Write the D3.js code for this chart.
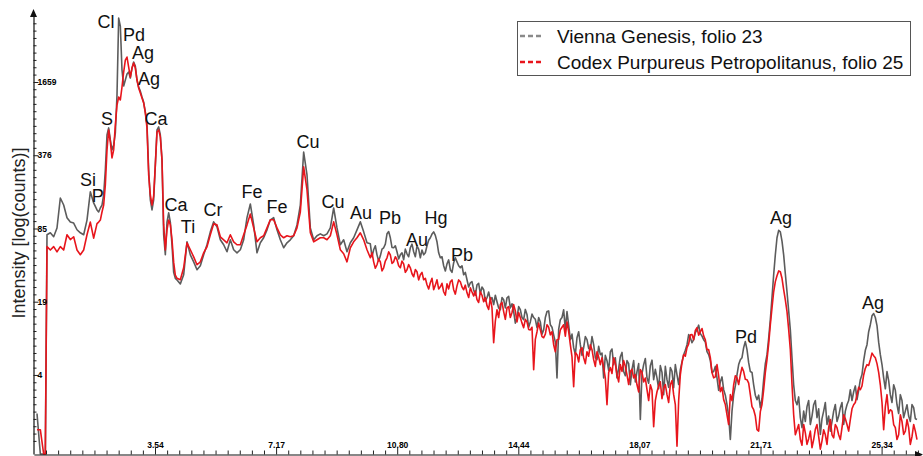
<!DOCTYPE html>
<html><head><meta charset="utf-8">
<script src="https://cdn.jsdelivr.net/npm/d3@7/dist/d3.min.js"></script>
<style>html,body{margin:0;padding:0;background:#fff;}svg{display:block;}</style>
</head><body><svg id="chart" width="923" height="456"></svg>
<script>
// ---------------- data ----------------
const seriesNames = ["Vienna Genesis, folio 23", "Codex Purpureus Petropolitanus, folio 25"];

// energy channels (keV)
const energy = [
  0, 0.1, 0.2, 0.25, 0.3, 0.4, 0.5, 0.6, 0.7, 0.8, 0.9, 1.0, 1.1, 1.2, 1.3, 1.4, 1.5, 1.6, 1.7, 1.8,
  1.85, 1.9, 1.95, 2.0, 2.05, 2.1, 2.15, 2.2, 2.25, 2.3, 2.35, 2.4, 2.45, 2.5, 2.55, 2.6, 2.65, 2.7, 2.75, 2.8,
  2.85, 2.9, 2.95, 3.0, 3.05, 3.1, 3.15, 3.2, 3.25, 3.3, 3.35, 3.4, 3.45, 3.5, 3.55, 3.6, 3.65, 3.7, 3.75, 3.8,
  3.85, 3.9, 3.95, 4.0, 4.05, 4.1, 4.15, 4.2,
  4.3, 4.4, 4.5, 4.6, 4.7, 4.8, 4.9, 5.0, 5.1, 5.2,
  5.3, 5.4, 5.5, 5.6, 5.7, 5.8, 5.9, 6.0, 6.1, 6.2,
  6.3, 6.4, 6.5, 6.6, 6.7, 6.8, 6.9, 7.0, 7.1, 7.2,
  7.3, 7.4, 7.5, 7.6, 7.7, 7.8, 7.9, 8.0, 8.1, 8.2,
  8.3, 8.4, 8.5, 8.6, 8.7, 8.8, 8.9, 9.0, 9.1, 9.2,
  9.3, 9.4, 9.5, 9.6, 9.7, 9.8, 9.9,
  10.0, 10.05, 10.1, 10.15, 10.2, 10.25, 10.3, 10.35, 10.4, 10.45, 10.5, 10.55, 10.6, 10.65, 10.7, 10.75, 10.8, 10.85, 10.9, 10.95,
  11.0, 11.05, 11.1, 11.15, 11.2, 11.25, 11.3, 11.35, 11.4, 11.45, 11.5, 11.55, 11.6, 11.65, 11.7, 11.75, 11.8, 11.85, 11.9, 11.95,
  12.0, 12.05, 12.1, 12.15, 12.2, 12.25, 12.3, 12.35, 12.4, 12.45, 12.5, 12.55, 12.6, 12.65, 12.7, 12.75, 12.8, 12.85, 12.9, 12.95,
  13.0, 13.05, 13.1, 13.15, 13.2, 13.25, 13.3, 13.35, 13.4, 13.45, 13.5, 13.55, 13.6, 13.65, 13.7, 13.75, 13.8, 13.85, 13.9, 13.95,
  14.0, 14.05, 14.1, 14.15, 14.2, 14.25, 14.3, 14.35, 14.4, 14.45, 14.5, 14.55, 14.6, 14.65, 14.7, 14.75, 14.8, 14.85, 14.9, 14.95,
  15.0, 15.05, 15.1, 15.15, 15.2, 15.25, 15.3, 15.35, 15.4, 15.45, 15.5, 15.55, 15.6, 15.65, 15.7, 15.75, 15.8, 15.85, 15.9, 15.95,
  16.0, 16.05, 16.1, 16.15, 16.2, 16.25, 16.3, 16.35, 16.4, 16.45, 16.5, 16.55, 16.6, 16.65, 16.7, 16.75, 16.8, 16.85, 16.9, 16.95,
  17.0, 17.05, 17.1, 17.15, 17.2, 17.25, 17.3, 17.35, 17.4, 17.45, 17.5, 17.55, 17.6, 17.65, 17.7, 17.75, 17.8, 17.85, 17.9, 17.95,
  18.0, 18.05, 18.1, 18.15, 18.2, 18.25, 18.3, 18.35, 18.4, 18.45, 18.5, 18.55, 18.6, 18.65, 18.7, 18.75, 18.8, 18.85, 18.9, 18.95,
  19.0, 19.05, 19.1, 19.15, 19.2, 19.25, 19.3, 19.35, 19.4, 19.45, 19.5, 19.55, 19.6, 19.65, 19.7, 19.75, 19.8, 19.85, 19.9, 19.95,
  20.0, 20.05, 20.1, 20.15, 20.2, 20.25, 20.3, 20.35, 20.4, 20.45, 20.5, 20.55, 20.6, 20.65, 20.7, 20.75, 20.8, 20.85, 20.9, 20.95,
  21.0, 21.05, 21.1, 21.15, 21.2, 21.25, 21.3, 21.35, 21.4, 21.45, 21.5, 21.55, 21.6, 21.65, 21.7, 21.75, 21.8, 21.85, 21.9, 21.95,
  22.0, 22.05, 22.1, 22.15, 22.2, 22.25, 22.3, 22.35, 22.4, 22.45, 22.5, 22.55, 22.6, 22.65, 22.7, 22.75, 22.8, 22.85, 22.9, 22.95,
  23.0, 23.05, 23.1, 23.15, 23.2, 23.25, 23.3, 23.35, 23.4, 23.45, 23.5, 23.55, 23.6, 23.65, 23.7, 23.75, 23.8, 23.85, 23.9, 23.95,
  24.0, 24.05, 24.1, 24.15, 24.2, 24.25, 24.3, 24.35, 24.4, 24.45, 24.5, 24.55, 24.6, 24.65, 24.7, 24.75, 24.8, 24.85, 24.9, 24.95,
  25.0, 25.05, 25.1, 25.15, 25.2, 25.25, 25.3, 25.35, 25.4, 25.45, 25.5, 25.55, 25.6, 25.65, 25.7, 25.75, 25.8, 25.85, 25.9, 25.95,
  26.0, 26.05, 26.1, 26.15, 26.2, 26.25, 26.3, 26.35, 26.4
];

const viennaGenesis = [
  2.0, 0.5, 0.5, 0.5, 75, 78, 72, 86, 158, 137, 106, 97, 95, 83, 78, 75, 101, 179, 143, 124,
  119, 129, 137, 168, 279, 567, 654, 513, 419, 463, 590, 1275, 6063, 5160, 2115, 1530, 1727, 1951, 2031, 1799,
  2200, 2487, 2290, 1727, 1500, 1380, 1224, 1100, 900, 694, 279, 152, 124, 152, 309, 628, 667, 567, 342, 75,
  50, 97, 117, 97, 61, 35, 31, 30,
  27.7, 33.3, 65, 49.9, 43.3, 36.9, 40, 49.9, 61.2, 79.5,
  97.4, 88, 67.7, 61.2, 53.1, 67.7, 55.3, 52, 55.3, 67.7,
  106, 140, 91.6, 52, 63.7, 70.5, 82.8, 101.5, 106, 82.8,
  67.7, 57.6, 63.7, 67.7, 73.4, 91.6, 137, 401, 252, 86.2,
  67.7, 73.4, 76.4, 73.4, 76.4, 86.2, 129, 86.2, 61.2, 67.7,
  53.1, 63.7, 70.5, 82.8, 97.4, 79.5, 63.7,
  62.4, 48, 55.3, 60, 49.9, 44, 48.9, 56, 57.6, 62, 76.4, 80, 70.5, 58, 57.6, 60, 53.1, 46, 49.9, 52,
  45.2, 56, 51, 48, 57.6, 62, 53.1, 48, 60, 56, 47, 55, 49.9, 52, 60, 67, 70.5, 76, 79.5, 74,
  65, 52, 47, 48, 40, 36, 41.6, 45, 36.9, 35, 42.5, 47, 43.3, 40, 38.4, 40, 33.3, 35, 30.1, 26,
  28.3, 29, 24.6, 22, 27.2, 28, 22.6, 26, 24.6, 19.5, 20.9, 23.5, 20.1, 21, 18.2, 22, 19.3, 17, 16.4, 21,
  20.1, 17, 20.9, 21.5, 17, 18.5, 15.8, 12.5, 14, 17.5, 16.4, 14, 13.4, 16.5, 14.9, 11.5, 12.8, 15, 14, 13.5,
  11.4, 14, 12.8, 10, 10.9, 14, 15.8, 16, 12.1, 11.5, 9.86, 8.5, 4.12, 11, 13.4, 14, 16.4, 11, 15.8, 12,
  8.93, 10, 7.6, 6.6, 9.3, 10.5, 8.07, 6.5, 7.6, 9.5, 8.93, 7.5, 7.29, 9.5, 8.07, 6.2, 5.96, 7.8, 6.59, 6.8,
  4.12, 6.5, 5.84, 4.8, 7, 7.4, 5.39, 6.2, 4.12, 5, 6.33, 6.9, 4.68, 4.3, 5.84, 5.5, 3.58, 4.9, 5.84, 3.8,
  4.68, 5.5, 1.77, 4.5, 5.39, 6.1, 4.12, 3.7, 5.28, 5.9, 3.97, 4.9, 4.12, 3.3, 5.28, 4.6, 2.93, 5.2, 3.97, 3.4,
  5.08, 4.7, 3.37, 5.4, 4.37, 3.6, 4.87, 5.7, 6.59, 7.2, 8.07, 9.9, 9.3, 8.4, 8.93, 10.3, 10.9, 12, 10.1, 9.6,
  8.93, 8.5, 7, 6.6, 5.84, 4.6, 4.68, 5.2, 4.12, 3.2, 3.8, 4.2, 3.24, 2.9, 2.39, 1.9, 1.18, 2.1, 2.93, 3.5,
  4.37, 5.4, 5.96, 6.2, 7.6, 8.6, 7.29, 5.6, 4.68, 4.6, 3.58, 2.9, 2.65, 2.9, 2.25, 2.7, 3.97, 5.5, 6.59, 9.2,
  13.4, 21, 33.3, 50, 70.5, 82, 79.5, 66, 49.9, 34, 23.6, 16, 10.9, 6.2, 3.58, 2.6, 2.39, 2.8, 1.84, 1.5,
  2.1, 1.7, 2.3, 2.6, 1.6, 1.9, 2.39, 2.6, 1.84, 2.2, 1.31, 1.8, 2.1, 2.5, 1.6, 1.9, 1.4, 1.7, 2.1, 2.4,
  1.7, 1.9, 2.25, 2.5, 1.6, 2.1, 2.39, 2.6, 3.24, 2.6, 3.11, 3.5, 2.65, 3.2, 3.97, 4.4, 5.84, 7.2, 8.07, 10.5,
  12.1, 14.5, 15.2, 14, 11.9, 8.5, 6.59, 5.4, 4.12, 3.3, 4.68, 3.9, 2.93, 2.5, 3.58, 3.2, 2.39, 2.0, 2.93, 2.6,
  1.84, 2.1, 2.39, 1.9, 1.7, 2.4, 2.25, 1.8, 1.77
];

const codexPetropolitanus = [
  1.44, 1.44, 0.5, 0.5, 59, 55, 59, 53, 59, 55, 75, 68, 72, 55, 50, 55, 75, 97, 70, 94,
  97, 101, 119, 137, 206, 419, 628, 492, 356, 419, 694, 1041, 1224, 1152, 1500, 2031, 2590, 2752, 2248, 1835,
  2203, 2439, 2200, 1727, 1469, 1328, 1199, 1085, 886, 654, 252, 168, 137, 165, 309, 602, 628, 545, 342, 92,
  55, 83, 101, 92, 68, 43, 33, 31,
  30.1, 38.4, 63.7, 55.3, 47.9, 40.8, 43.3, 52, 58.8, 74.9,
  93.5, 91.6, 71.9, 67.7, 63.7, 74.9, 65, 61.2, 61.2, 74.9,
  91.6, 114, 86.2, 65, 70.5, 73.4, 86.2, 101.5, 101.5, 86.2,
  74.9, 70.5, 73.4, 71.9, 73.4, 86.2, 119, 297, 186, 78,
  65, 67.7, 70.5, 70.5, 67.7, 73.4, 97.4, 74.9, 55.3, 51,
  43.3, 57.6, 65, 70.5, 78, 67.7, 55.3,
  47, 52, 43.3, 38, 40.8, 46, 43.3, 36, 38.4, 44, 47, 53, 49.9, 42, 43.3, 48, 45.2, 40, 38.4, 44,
  41.6, 35, 36.9, 41, 38.4, 34, 32, 37, 35.4, 30, 33.3, 35, 30.1, 31, 27.2, 25, 28.3, 31, 24.6, 27,
  30.1, 25, 26.1, 28, 23.6, 22, 27.7, 25, 28.9, 30, 24.6, 22.5, 26.6, 30, 28.9, 26, 24.6, 27, 23.1, 21,
  25.6, 23.5, 21.7, 24, 20.1, 19, 23.6, 22, 19.3, 21, 17.8, 16.5, 20.9, 17, 8.41, 13, 16.4, 14, 18.2, 19,
  15.8, 13.5, 17, 17.5, 14, 15.5, 18.2, 16, 12.8, 15.5, 14, 12.5, 11.4, 13.5, 12.8, 11, 10.9, 11.5, 4.87, 9,
  10.5, 12.5, 10.9, 9.5, 9.3, 10, 12.1, 11.5, 9.86, 10.5, 8.07, 7, 8.93, 9, 10.9, 11.5, 12.1, 9.6, 12.8, 10.5,
  8.07, 6.3, 3.44, 6.9, 6.59, 5.7, 7.29, 7.6, 6.2, 5.5, 7, 6.4, 8.07, 7.3, 5.96, 5.2, 7, 6.3, 5.39, 6.2,
  5.08, 4.1, 2.39, 4.6, 5.08, 4.5, 6.2, 5.5, 4.37, 3.8, 5.39, 4.7, 5.84, 5.2, 4.37, 3.6, 4.68, 4.9, 4.12, 4.4,
  3.58, 3.1, 4.87, 4.6, 3.8, 4.1, 3.24, 2.6, 3.58, 3.2, 1.53, 2.6, 3.11, 3.5, 3.8, 2.7, 3.37, 3.6, 2.93, 2.5,
  3.58, 3.9, 2.93, 2.4, 1.03, 2.6, 4.37, 5.6, 6.59, 6.4, 7.6, 8.2, 9.86, 9.9, 8.93, 10.8, 11.4, 9.8, 10.5, 11.2,
  9.66, 8.9, 7.29, 7.3, 6.2, 4.6, 4.12, 4.2, 5.39, 4.3, 3.11, 3.4, 2.65, 2.4, 1.95, 1.6, 2.93, 2.6, 3.58, 4.3,
  4.12, 3.6, 4.37, 5.1, 4.68, 4.0, 3.97, 3.7, 2.93, 2.3, 2.16, 1.9, 1.44, 1.4, 2.08, 2.4, 3.24, 4.6, 5.96, 8.2,
  12.1, 17, 23.6, 29, 32.6, 36, 35.4, 31, 24.6, 20, 15.8, 11, 7.29, 3.6, 1.95, 1.3, 1.44, 1.6, 1.18, 1.05,
  1.6, 1.35, 1.07, 1.2, 1.4, 1.0, 1.18, 1.45, 1.6, 1.25, 0.97, 1.15, 1.44, 1.3, 1.07, 1.5, 1.77, 1.3, 1.22, 1.6,
  1.5, 1.3, 1.18, 1.5, 1.95, 1.8, 1.6, 1.4, 1.77, 2.2, 2.39, 2.5, 2.93, 3.4, 3.24, 3.5, 4.37, 5.0, 5.39, 5.3,
  5.96, 6.8, 6.46, 6.2, 5.5, 4.6, 3.58, 2.5, 1.44, 2.3, 2.93, 2.0, 2.16, 2.1, 1.6, 1.5, 1.18, 1.3, 1.95, 1.7,
  1.31, 1.4, 1.77, 1.5, 1.07, 1.25, 1.6, 1.4, 1.18
];

const xTickValues = [3.54, 7.173, 10.806, 14.439, 18.072, 21.705, 25.338];
const xTickLabels = ["3.54", "7.17", "10.80", "14.44", "18.07", "21.71", "25.34"];
const yTickValues = [4.37, 19.3, 85.1, 376, 1659];
const yTickLabels = ["4", "19", "85", "376", "1659"];

const peakNames  = ["Cl", "Pd", "Ag", "Ag", "S", "Ca", "Si", "P", "Ca", "Ti", "Cr", "Fe", "Fe", "Cu", "Cu", "Au", "Pb", "Au", "Hg", "Pb", "Pd", "Ag", "Ag"];
const peakEnergy = [2.07, 2.91, 3.18, 3.36, 2.10, 3.57, 1.53, 1.82, 4.17, 4.53, 5.28, 6.45, 7.20, 8.13, 8.88, 9.72, 10.59, 11.40, 11.97, 12.75, 21.27, 22.32, 25.08];
const peakCount  = [4930, 3828, 2645, 1577, 694, 694, 201.5, 146, 121.4, 77.7, 109.7, 158, 116.6, 435, 129, 103.2, 93.3, 59.7, 93.3, 44.1, 8.36, 93.3, 16.6];

// ---------------- chart ----------------
const FONT = "'Liberation Sans', Arial, Helvetica, sans-serif";
const svg = d3.select("#chart");

const x = d3.scaleLinear().domain([-0.093, 26.52]).range([33.9, 921]);
const y = d3.scaleLog().domain([0.88, 6860]).range([454, 12]).clamp(true);

const line = d3.line()
  .x((d, i) => x(energy[i]))
  .y(d => y(d));

const series = [
  {name: seriesNames[0], values: viennaGenesis, color: "#5c5c5c"},
  {name: seriesNames[1], values: codexPetropolitanus, color: "#e8151c"}
];

svg.append("g").selectAll("path").data(series).join("path")
  .attr("d", s => line(s.values))
  .attr("fill", "none")
  .attr("stroke", s => s.color)
  .attr("stroke-width", 1.6)
  .attr("stroke-linejoin", "round");

// x axis (ticks and labels inside the plot)
const xAxisY = 454.5;
const minorX = d3.range(0, 74).filter(k => k % 10 !== 0).map(k => -0.093 + k * 0.3633).filter(v => v < 26.5);
svg.append("g").attr("transform", `translate(0,${xAxisY})`)
  .call(d3.axisBottom(x).tickValues(minorX).tickSizeInner(-4).tickSizeOuter(0).tickFormat(""))
  .call(g => g.select(".domain").remove())
  .call(g => g.selectAll("line").attr("stroke", "#222"));
const gx = svg.append("g").attr("transform", `translate(0,${xAxisY})`)
  .call(d3.axisBottom(x).tickValues(xTickValues).tickFormat((d, i) => xTickLabels[i])
        .tickSizeInner(-7).tickSizeOuter(0).tickPadding(-13));
gx.select(".domain").attr("stroke", "#111").attr("stroke-width", 1.2);
gx.selectAll("line").attr("stroke", "#222");
gx.selectAll("text").attr("font-family", FONT).attr("font-size", 8.5).attr("font-weight", "bold").attr("fill", "#000");

// y axis (ticks and labels inside the plot)
const yAxisX = 33.5;
const step = (y(yTickValues[0]) - y(yTickValues[1])) / 10;
const minorY = [];
for (let k = -12; k <= 60; k++) {
  if (k % 10 === 0) continue;
  const p = y(yTickValues[0]) - k * step;
  if (p > 16 && p < 454) minorY.push(y.invert(p));
}
svg.append("g").attr("transform", `translate(${yAxisX},0)`)
  .call(d3.axisRight(y).tickValues(minorY).tickSizeInner(3).tickSizeOuter(0).tickFormat(""))
  .call(g => g.select(".domain").remove())
  .call(g => g.selectAll("line").attr("stroke", "#222"));
const gy = svg.append("g").attr("transform", `translate(${yAxisX},0)`)
  .call(d3.axisRight(y).tickValues(yTickValues).tickFormat((d, i) => yTickLabels[i])
        .tickSizeInner(5).tickSizeOuter(0).tickPadding(-1));
gy.select(".domain").attr("stroke", "#111").attr("stroke-width", 1.2);
gy.selectAll("line").attr("stroke", "#222");
gy.selectAll("text").attr("font-family", FONT).attr("font-size", 8.5).attr("font-weight", "bold").attr("fill", "#000");

// axis arrows
svg.append("path").attr("d", `M${yAxisX - 3.5},17 L${yAxisX},9 L${yAxisX + 3.5},17 Z`).attr("fill", "#111");
svg.append("path").attr("d", `M915,${xAxisY - 3.5} L923,${xAxisY} L915,${xAxisY + 3.5} Z`).attr("fill", "#111");

// y axis title
svg.append("text")
  .attr("transform", "translate(25,233) rotate(-90)")
  .attr("text-anchor", "middle")
  .attr("font-family", FONT).attr("font-size", 18).attr("fill", "#222")
  .text("Intensity [log(counts)]");

// peak labels
svg.append("g").selectAll("text").data(peakNames).join("text")
  .attr("x", (d, i) => x(peakEnergy[i]))
  .attr("y", (d, i) => y(peakCount[i]))
  .attr("text-anchor", "middle")
  .attr("font-family", FONT).attr("font-size", 18).attr("fill", "#111")
  .text(d => d);

// legend
const lg = svg.append("g");
lg.append("rect").attr("x", 517.5).attr("y", 21.5).attr("width", 393).attr("height", 54)
  .attr("fill", "#fff").attr("stroke", "#555").attr("stroke-width", 1);
const legendColors = ["#8a8a8a", "#e8151c"];
seriesNames.forEach((name, i) => {
  const cy = 36 + i * 26;
  lg.append("line").attr("x1", 520).attr("x2", 541).attr("y1", cy).attr("y2", cy)
    .attr("stroke", legendColors[i]).attr("stroke-width", 2.5).attr("stroke-dasharray", "5,3");
  lg.append("text").attr("x", 557).attr("y", cy + 6.5)
    .attr("font-family", FONT).attr("font-size", 19).attr("fill", "#111")
    .text(name);
});
</script>
</body></html>
